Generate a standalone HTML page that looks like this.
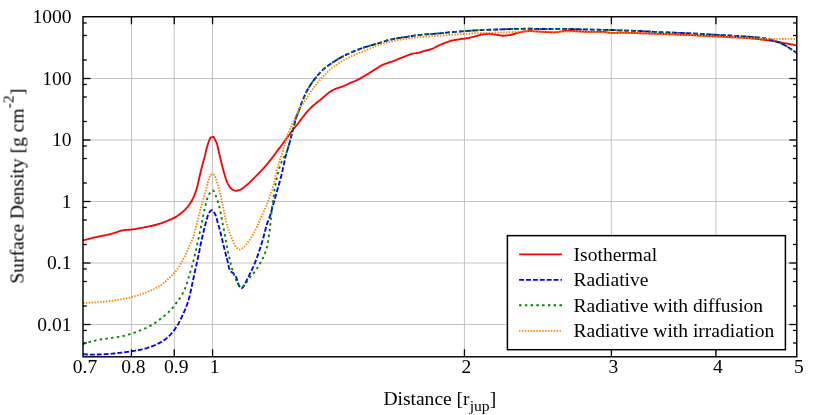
<!DOCTYPE html>
<html><head><meta charset="utf-8"><title>Surface Density</title>
<style>html,body{margin:0;padding:0;background:#fff;}svg{display:block;}text{font-family:"Liberation Serif",serif;white-space:pre;}</style></head><body>
<svg width="830" height="415" viewBox="0 0 830 415">
<rect width="830" height="415" fill="#fff"/>
<g stroke="#c4c4c4" stroke-width="1.0" fill="none">
<line x1="131.45" y1="16.75" x2="131.45" y2="356.8"/>
<line x1="174.25" y1="16.75" x2="174.25" y2="356.8"/>
<line x1="212.55" y1="16.75" x2="212.55" y2="356.8"/>
<line x1="464.45" y1="16.75" x2="464.45" y2="356.8"/>
<line x1="611.40" y1="16.75" x2="611.40" y2="356.8"/>
<line x1="715.90" y1="16.75" x2="715.90" y2="356.8"/>
<line x1="83.0" y1="78.50" x2="796.8" y2="78.50"/>
<line x1="83.0" y1="140.00" x2="796.8" y2="140.00"/>
<line x1="83.0" y1="201.50" x2="796.8" y2="201.50"/>
<line x1="83.0" y1="263.00" x2="796.8" y2="263.00"/>
<line x1="83.0" y1="324.50" x2="796.8" y2="324.50"/>
</g>
<clipPath id="cp"><rect x="83.0" y="16.75" width="713.8" height="340.05"/></clipPath>
<g fill="none" stroke-linejoin="round" clip-path="url(#cp)">
<path d="M83.0,240.3 L84.0,240.1 L85.0,239.9 L86.0,239.7 L87.0,239.4 L88.0,239.2 L89.0,238.9 L90.0,238.6 L91.0,238.3 L92.0,238.1 L93.0,237.8 L94.0,237.5 L95.0,237.3 L96.0,237.1 L97.0,236.9 L98.0,236.7 L99.0,236.5 L100.0,236.3 L101.0,236.1 L102.0,235.9 L103.0,235.7 L104.0,235.5 L105.0,235.3 L106.0,235.1 L107.0,234.9 L108.0,234.7 L109.0,234.5 L110.0,234.2 L111.0,233.9 L112.0,233.7 L113.0,233.4 L114.0,233.1 L115.0,232.7 L116.0,232.4 L117.0,232.1 L118.0,231.7 L119.0,231.4 L120.0,231.0 L121.0,230.7 L122.0,230.5 L123.0,230.3 L124.0,230.2 L125.0,230.0 L126.0,229.9 L127.0,229.8 L128.0,229.8 L129.0,229.7 L130.0,229.7 L131.0,229.6 L132.0,229.5 L133.0,229.4 L134.0,229.2 L135.0,229.1 L136.0,228.9 L137.0,228.7 L138.0,228.5 L139.0,228.3 L140.0,228.1 L141.0,227.9 L142.0,227.8 L143.0,227.6 L144.0,227.4 L145.0,227.2 L146.0,227.0 L147.0,226.8 L148.0,226.6 L149.0,226.4 L150.0,226.2 L151.0,226.0 L152.0,225.8 L153.0,225.5 L154.0,225.3 L155.0,225.0 L156.0,224.8 L157.0,224.5 L158.0,224.2 L159.0,223.9 L160.0,223.6 L161.0,223.3 L162.0,223.0 L163.0,222.6 L164.0,222.2 L165.0,221.8 L166.0,221.4 L167.0,221.0 L168.0,220.6 L169.0,220.2 L170.0,219.7 L171.0,219.3 L172.0,218.9 L173.0,218.4 L174.0,217.9 L175.0,217.4 L176.0,216.9 L177.0,216.2 L178.0,215.5 L179.0,214.8 L180.0,214.1 L181.0,213.3 L182.0,212.4 L183.0,211.6 L184.0,210.6 L185.0,209.7 L186.0,208.6 L187.0,207.5 L188.0,206.3 L189.0,205.0 L190.0,203.6 L191.0,202.0 L192.0,200.3 L193.0,198.3 L194.0,196.2 L195.0,193.7 L196.0,190.9 L197.0,187.6 L198.0,183.6 L199.0,179.1 L200.0,174.8 L201.0,170.5 L202.0,166.4 L203.0,162.8 L204.0,159.2 L205.0,155.4 L206.0,151.1 L207.0,147.0 L208.0,143.8 L209.0,141.0 L210.0,138.6 L210.7,137.3 L213.6,136.8 L217.0,143.6 L218.0,148.2 L219.0,152.6 L220.0,156.9 L221.0,161.0 L222.0,165.1 L223.0,169.0 L224.0,172.7 L225.0,176.1 L226.0,179.2 L227.0,181.9 L228.0,184.1 L229.0,185.8 L230.0,187.2 L231.0,188.4 L232.0,189.3 L233.0,189.9 L234.0,190.4 L235.0,190.7 L236.0,190.8 L237.0,190.7 L238.0,190.4 L239.0,190.1 L240.0,189.8 L241.0,189.3 L242.0,188.8 L243.0,188.1 L244.0,187.3 L245.0,186.4 L246.0,185.6 L247.0,184.8 L248.0,184.0 L249.0,183.2 L250.0,182.2 L251.0,181.2 L252.0,180.2 L253.0,179.2 L254.0,178.2 L255.0,177.2 L256.0,176.2 L257.0,175.2 L258.0,174.2 L259.0,173.1 L260.0,172.1 L261.0,171.0 L262.0,169.9 L263.0,168.9 L264.0,167.8 L265.0,166.7 L266.0,165.5 L267.0,164.3 L268.0,163.1 L269.0,161.9 L270.0,160.6 L271.0,159.3 L272.0,158.0 L273.0,156.7 L274.0,155.4 L275.0,154.1 L276.0,152.7 L277.0,151.3 L278.0,149.9 L279.0,148.6 L280.0,147.4 L281.0,146.1 L282.0,144.8 L283.0,143.4 L284.0,142.0 L285.0,140.5 L286.0,139.1 L287.0,137.7 L288.0,136.4 L289.0,135.0 L290.0,133.7 L291.0,132.4 L292.0,131.1 L293.0,129.8 L294.0,128.5 L295.0,127.3 L296.0,126.0 L297.0,124.8 L298.0,123.5 L299.0,122.2 L300.0,120.9 L301.0,119.6 L302.0,118.3 L303.0,117.0 L304.0,115.6 L305.0,114.4 L306.0,113.1 L307.0,111.9 L308.0,110.7 L309.0,109.6 L310.0,108.6 L311.0,107.6 L312.0,106.7 L313.0,105.8 L314.0,104.9 L315.0,104.1 L316.0,103.3 L317.0,102.5 L318.0,101.7 L319.0,100.9 L320.0,100.1 L321.0,99.3 L322.0,98.5 L323.0,97.6 L324.0,96.7 L325.0,95.9 L326.0,95.0 L327.0,94.1 L328.0,93.3 L329.0,92.5 L330.0,91.8 L331.0,91.2 L332.0,90.6 L333.0,90.0 L334.0,89.5 L335.0,89.1 L336.0,88.7 L337.0,88.3 L338.0,88.0 L339.0,87.7 L340.0,87.3 L341.0,87.0 L342.0,86.6 L343.0,86.3 L344.0,85.9 L345.0,85.4 L346.0,85.0 L347.0,84.5 L348.0,84.0 L349.0,83.6 L350.0,83.1 L351.0,82.7 L352.0,82.3 L353.0,81.9 L354.0,81.5 L355.0,81.1 L356.0,80.7 L357.0,80.2 L358.0,79.7 L359.0,79.2 L360.0,78.6 L361.0,78.0 L362.0,77.4 L363.0,76.8 L364.0,76.2 L365.0,75.6 L366.0,75.1 L367.0,74.5 L368.0,73.9 L369.0,73.2 L370.0,72.6 L371.0,72.0 L372.0,71.4 L373.0,70.8 L374.0,70.1 L375.0,69.5 L376.0,68.9 L377.0,68.2 L378.0,67.6 L379.0,66.9 L380.0,66.3 L381.0,65.7 L382.0,65.1 L383.0,64.7 L384.0,64.3 L385.0,63.9 L386.0,63.5 L387.0,63.2 L388.0,62.8 L389.0,62.5 L390.0,62.2 L391.0,61.9 L392.0,61.5 L393.0,61.2 L394.0,60.8 L395.0,60.5 L396.0,60.1 L397.0,59.7 L398.0,59.2 L399.0,58.8 L400.0,58.4 L401.0,58.0 L402.0,57.6 L403.0,57.2 L404.0,56.8 L405.0,56.4 L406.0,56.0 L407.0,55.6 L408.0,55.2 L409.0,54.8 L410.0,54.4 L411.0,54.1 L412.0,53.8 L413.0,53.6 L414.0,53.4 L415.0,53.3 L416.0,53.2 L417.0,53.0 L418.0,52.8 L419.0,52.6 L420.0,52.3 L421.0,52.0 L422.0,51.7 L423.0,51.3 L424.0,51.0 L425.0,50.8 L426.0,50.5 L427.0,50.3 L428.0,50.0 L429.0,49.8 L430.0,49.5 L431.0,49.2 L432.0,48.9 L433.0,48.5 L434.0,48.0 L435.0,47.5 L436.0,46.9 L437.0,46.4 L438.0,45.8 L439.0,45.4 L440.0,44.9 L441.0,44.5 L442.0,44.1 L443.0,43.7 L444.0,43.3 L445.0,42.9 L446.0,42.5 L447.0,42.2 L448.0,41.9 L449.0,41.5 L450.0,41.2 L451.0,40.9 L452.0,40.6 L453.0,40.4 L454.0,40.2 L455.0,40.0 L456.0,39.8 L457.0,39.6 L458.0,39.5 L459.0,39.3 L460.0,39.2 L461.0,39.0 L462.0,38.9 L463.0,38.8 L464.0,38.6 L465.0,38.5 L466.0,38.4 L467.0,38.2 L468.0,38.1 L469.0,37.9 L470.0,37.7 L471.0,37.4 L472.0,37.2 L473.0,36.9 L474.0,36.7 L475.0,36.4 L476.0,36.2 L477.0,35.9 L478.0,35.6 L479.0,35.3 L480.0,35.0 L481.0,34.7 L482.0,34.5 L483.0,34.4 L484.0,34.3 L485.0,34.1 L486.0,34.0 L487.0,33.9 L488.0,33.8 L489.0,33.8 L490.0,33.8 L491.0,33.9 L492.0,34.0 L493.0,34.2 L494.0,34.3 L495.0,34.5 L496.0,34.7 L497.0,34.8 L498.0,35.0 L499.0,35.2 L500.0,35.4 L501.0,35.6 L502.0,35.7 L503.0,35.7 L504.0,35.7 L505.0,35.6 L506.0,35.5 L507.0,35.4 L508.0,35.3 L509.0,35.1 L510.0,35.0 L511.0,34.8 L512.0,34.5 L513.0,34.3 L514.0,34.0 L515.0,33.7 L516.0,33.4 L517.0,33.1 L518.0,32.9 L519.0,32.6 L520.0,32.3 L521.0,32.1 L522.0,31.9 L523.0,31.7 L524.0,31.5 L525.0,31.4 L526.0,31.3 L527.0,31.2 L528.0,31.1 L529.0,31.0 L530.0,31.0 L531.0,31.0 L532.0,31.1 L533.0,31.2 L534.0,31.3 L535.0,31.3 L536.0,31.4 L537.0,31.5 L538.0,31.5 L539.0,31.6 L540.0,31.6 L541.0,31.7 L542.0,31.8 L543.0,31.8 L544.0,31.9 L545.0,31.9 L546.0,32.0 L547.0,32.0 L548.0,32.1 L549.0,32.1 L550.0,32.2 L551.0,32.2 L552.0,32.3 L553.0,32.3 L554.0,32.3 L555.0,32.3 L556.0,32.2 L557.0,32.1 L558.0,32.0 L559.0,31.8 L560.0,31.6 L561.0,31.4 L562.0,31.3 L563.0,31.1 L564.0,31.0 L565.0,30.8 L566.0,30.7 L567.0,30.6 L568.0,30.6 L569.0,30.6 L570.0,30.7 L571.0,30.7 L572.0,30.8 L573.0,30.9 L574.0,31.0 L575.0,31.1 L576.0,31.2 L577.0,31.3 L578.0,31.3 L579.0,31.4 L580.0,31.4 L581.0,31.5 L582.0,31.5 L583.0,31.6 L584.0,31.6 L585.0,31.7 L586.0,31.7 L587.0,31.8 L588.0,31.8 L589.0,31.9 L590.0,31.9 L591.0,31.9 L592.0,31.9 L593.0,31.9 L594.0,31.9 L595.0,31.9 L596.0,31.9 L597.0,31.9 L598.0,31.9 L599.0,31.9 L600.0,31.9 L601.0,31.9 L602.0,31.9 L603.0,31.9 L604.0,31.9 L605.0,32.0 L606.0,32.1 L607.0,32.3 L608.0,32.5 L609.0,32.7 L610.0,32.8 L611.0,32.9 L612.0,32.9 L613.0,32.9 L614.0,32.8 L615.0,32.8 L616.0,32.8 L617.0,32.7 L618.0,32.7 L619.0,32.6 L620.0,32.6 L621.0,32.6 L622.0,32.6 L623.0,32.6 L624.0,32.6 L625.0,32.7 L626.0,32.7 L627.0,32.8 L628.0,32.8 L629.0,32.8 L630.0,32.9 L631.0,32.9 L632.0,33.0 L633.0,33.0 L634.0,33.0 L635.0,33.1 L636.0,33.1 L637.0,33.1 L638.0,33.1 L639.0,33.2 L640.0,33.2 L641.0,33.2 L642.0,33.3 L643.0,33.3 L644.0,33.3 L645.0,33.3 L646.0,33.4 L647.0,33.4 L648.0,33.4 L649.0,33.5 L650.0,33.5 L651.0,33.5 L652.0,33.6 L653.0,33.6 L654.0,33.6 L655.0,33.7 L656.0,33.7 L657.0,33.7 L658.0,33.8 L659.0,33.8 L660.0,33.8 L661.0,33.9 L662.0,33.9 L663.0,34.0 L664.0,34.0 L665.0,34.0 L666.0,34.1 L667.0,34.1 L668.0,34.1 L669.0,34.2 L670.0,34.2 L671.0,34.3 L672.0,34.3 L673.0,34.4 L674.0,34.4 L675.0,34.4 L676.0,34.5 L677.0,34.5 L678.0,34.6 L679.0,34.6 L680.0,34.7 L681.0,34.7 L682.0,34.7 L683.0,34.8 L684.0,34.8 L685.0,34.9 L686.0,34.9 L687.0,35.0 L688.0,35.0 L689.0,35.1 L690.0,35.1 L691.0,35.1 L692.0,35.2 L693.0,35.2 L694.0,35.3 L695.0,35.3 L696.0,35.4 L697.0,35.4 L698.0,35.5 L699.0,35.5 L700.0,35.6 L701.0,35.6 L702.0,35.7 L703.0,35.7 L704.0,35.8 L705.0,35.8 L706.0,35.9 L707.0,35.9 L708.0,36.0 L709.0,36.0 L710.0,36.1 L711.0,36.1 L712.0,36.2 L713.0,36.2 L714.0,36.3 L715.0,36.3 L716.0,36.4 L717.0,36.4 L718.0,36.5 L719.0,36.5 L720.0,36.6 L721.0,36.6 L722.0,36.7 L723.0,36.7 L724.0,36.8 L725.0,36.8 L726.0,36.9 L727.0,36.9 L728.0,37.0 L729.0,37.0 L730.0,37.1 L731.0,37.2 L732.0,37.2 L733.0,37.2 L734.0,37.3 L735.0,37.3 L736.0,37.4 L737.0,37.4 L738.0,37.5 L739.0,37.5 L740.0,37.6 L741.0,37.6 L742.0,37.7 L743.0,37.8 L744.0,37.8 L745.0,37.9 L746.0,38.0 L747.0,38.1 L748.0,38.1 L749.0,38.2 L750.0,38.3 L751.0,38.4 L752.0,38.5 L753.0,38.6 L754.0,38.7 L755.0,38.8 L756.0,38.9 L757.0,39.0 L758.0,39.1 L759.0,39.2 L760.0,39.3 L761.0,39.5 L762.0,39.6 L763.0,39.7 L764.0,39.8 L765.0,40.0 L766.0,40.1 L767.0,40.2 L768.0,40.4 L769.0,40.5 L770.0,40.6 L771.0,40.8 L772.0,40.9 L773.0,41.1 L774.0,41.2 L775.0,41.4 L776.0,41.5 L777.0,41.7 L778.0,41.9 L779.0,42.0 L780.0,42.2 L781.0,42.5 L782.0,42.7 L783.0,42.9 L784.0,43.1 L785.0,43.2 L786.0,43.4 L787.0,43.6 L788.0,43.7 L789.0,43.9 L790.0,44.1 L791.0,44.3 L792.0,44.4 L793.0,44.7 L794.0,44.9 L795.0,45.1 L796.0,45.3 L796.8,45.5" stroke="#ff0000" stroke-width="1.85"/>
<path d="M83.0,354.1 L84.0,354.2 L85.0,354.3 L86.0,354.4 L87.0,354.5 L88.0,354.5 L89.0,354.6 L90.0,354.6 L91.0,354.6 L92.0,354.6 L93.0,354.6 L94.0,354.6 L95.0,354.5 L96.0,354.5 L97.0,354.5 L98.0,354.5 L99.0,354.5 L100.0,354.4 L101.0,354.4 L102.0,354.3 L103.0,354.3 L104.0,354.2 L105.0,354.2 L106.0,354.1 L107.0,354.1 L108.0,354.0 L109.0,353.9 L110.0,353.9 L111.0,353.8 L112.0,353.7 L113.0,353.6 L114.0,353.5 L115.0,353.4 L116.0,353.3 L117.0,353.2 L118.0,353.0 L119.0,352.9 L120.0,352.8 L121.0,352.7 L122.0,352.6 L123.0,352.4 L124.0,352.3 L125.0,352.2 L126.0,352.1 L127.0,351.9 L128.0,351.8 L129.0,351.6 L130.0,351.5 L131.0,351.3 L132.0,351.2 L133.0,351.0 L134.0,350.8 L135.0,350.7 L136.0,350.5 L137.0,350.3 L138.0,350.2 L139.0,350.0 L140.0,349.8 L141.0,349.6 L142.0,349.4 L143.0,349.2 L144.0,349.0 L145.0,348.7 L146.0,348.4 L147.0,348.1 L148.0,347.7 L149.0,347.4 L150.0,347.1 L151.0,346.7 L152.0,346.3 L153.0,345.9 L154.0,345.5 L155.0,345.1 L156.0,344.6 L157.0,344.2 L158.0,343.7 L159.0,343.2 L160.0,342.7 L161.0,342.1 L162.0,341.5 L163.0,340.9 L164.0,340.3 L165.0,339.5 L166.0,338.8 L167.0,337.9 L168.0,337.1 L169.0,336.1 L170.0,335.1 L171.0,334.0 L172.0,332.9 L173.0,331.7 L174.0,330.4 L175.0,329.1 L176.0,327.6 L177.0,326.1 L178.0,324.4 L179.0,322.6 L180.0,320.7 L181.0,318.6 L182.0,316.5 L183.0,314.3 L184.0,312.1 L185.0,309.8 L186.0,307.4 L187.0,304.7 L188.0,301.9 L189.0,298.6 L190.0,294.6 L191.0,289.9 L192.0,285.2 L193.0,280.4 L194.0,275.7 L195.0,271.2 L196.0,266.8 L197.0,262.3 L198.0,257.6 L199.0,252.8 L200.0,247.9 L201.0,242.8 L202.0,238.2 L203.0,233.9 L204.0,229.8 L205.0,225.9 L206.0,222.1 L207.0,218.2 L208.0,215.1 L209.0,213.1 L210.0,211.3 L211.0,210.3 L212.0,210.2 L213.0,211.0 L214.0,212.3 L215.0,214.0 L216.0,216.2 L217.0,219.7 L218.0,223.7 L219.0,227.2 L220.0,230.7 L221.0,234.7 L222.0,239.0 L223.0,243.2 L224.0,247.2 L225.0,251.1 L226.0,255.1 L227.0,259.0 L228.0,263.1 L229.0,267.7 L230.0,270.6 L231.0,271.7 L232.0,272.3 L233.0,272.9 L234.0,274.0 L235.0,275.3 L236.0,276.9 L237.0,279.4 L238.0,283.2 L239.0,285.7 L240.0,287.4 L241.0,288.4 L242.0,288.3 L243.0,287.0 L244.0,285.4 L245.0,283.7 L246.0,281.7 L247.0,279.6 L248.0,277.5 L249.0,275.6 L250.0,273.6 L251.0,271.7 L252.0,269.6 L253.0,267.4 L254.0,265.1 L255.0,262.7 L256.0,260.1 L257.0,257.5 L258.0,254.6 L259.0,251.7 L260.0,248.7 L261.0,245.6 L262.0,242.3 L263.0,238.9 L264.0,235.2 L265.0,231.2 L266.0,227.2 L267.0,223.9 L268.0,221.1 L269.0,218.6 L270.0,215.9 L271.0,212.7 L272.0,209.1 L273.0,205.4 L274.0,201.7 L275.0,198.2 L276.0,194.7 L277.0,191.3 L278.0,187.8 L279.0,184.2 L280.0,180.7 L281.0,177.1 L282.0,172.9 L283.0,168.3 L284.0,163.7 L285.0,159.2 L286.0,155.0 L287.0,151.5 L288.0,148.2 L289.0,144.7 L290.0,141.0 L291.0,137.2 L292.0,133.0 L293.0,129.2 L294.0,125.8 L295.0,121.8 L296.0,117.9 L297.0,115.4 L298.0,113.0 L299.0,110.3 L300.0,107.5 L301.0,104.7 L302.0,102.1 L303.0,99.8 L304.0,97.1 L305.0,94.8 L306.0,92.6 L307.0,90.7 L308.0,89.0 L309.0,87.3 L310.0,85.7 L311.0,84.0 L312.0,82.5 L313.0,81.2 L314.0,79.9 L315.0,78.7 L316.0,77.4 L317.0,76.1 L318.0,74.9 L319.0,73.8 L320.0,72.7 L321.0,71.6 L322.0,70.6 L323.0,69.6 L324.0,68.8 L325.0,68.0 L326.0,67.2 L327.0,66.5 L328.0,65.7 L329.0,65.0 L330.0,64.3 L331.0,63.6 L332.0,62.9 L333.0,62.3 L334.0,61.6 L335.0,61.0 L336.0,60.3 L337.0,59.7 L338.0,59.1 L339.0,58.5 L340.0,57.9 L341.0,57.4 L342.0,56.8 L343.0,56.3 L344.0,55.9 L345.0,55.4 L346.0,54.9 L347.0,54.4 L348.0,53.9 L349.0,53.5 L350.0,53.0 L351.0,52.6 L352.0,52.1 L353.0,51.7 L354.0,51.3 L355.0,50.9 L356.0,50.5 L357.0,50.1 L358.0,49.7 L359.0,49.3 L360.0,48.9 L361.0,48.5 L362.0,48.1 L363.0,47.8 L364.0,47.5 L365.0,47.2 L366.0,46.9 L367.0,46.6 L368.0,46.3 L369.0,46.0 L370.0,45.7 L371.0,45.4 L372.0,45.1 L373.0,44.8 L374.0,44.5 L375.0,44.2 L376.0,43.9 L377.0,43.7 L378.0,43.4 L379.0,43.1 L380.0,42.8 L381.0,42.5 L382.0,42.1 L383.0,41.8 L384.0,41.5 L385.0,41.2 L386.0,40.8 L387.0,40.5 L388.0,40.2 L389.0,40.0 L390.0,39.7 L391.0,39.5 L392.0,39.3 L393.0,39.1 L394.0,38.9 L395.0,38.7 L396.0,38.5 L397.0,38.3 L398.0,38.2 L399.0,38.0 L400.0,37.8 L401.0,37.7 L402.0,37.5 L403.0,37.4 L404.0,37.2 L405.0,37.1 L406.0,37.0 L407.0,36.8 L408.0,36.7 L409.0,36.5 L410.0,36.4 L411.0,36.2 L412.0,36.0 L413.0,35.9 L414.0,35.7 L415.0,35.5 L416.0,35.4 L417.0,35.3 L418.0,35.1 L419.0,35.0 L420.0,34.9 L421.0,34.8 L422.0,34.7 L423.0,34.6 L424.0,34.5 L425.0,34.4 L426.0,34.3 L427.0,34.3 L428.0,34.2 L429.0,34.1 L430.0,34.0 L431.0,34.0 L432.0,33.9 L433.0,33.8 L434.0,33.8 L435.0,33.7 L436.0,33.6 L437.0,33.5 L438.0,33.5 L439.0,33.4 L440.0,33.3 L441.0,33.2 L442.0,33.1 L443.0,33.0 L444.0,32.9 L445.0,32.8 L446.0,32.7 L447.0,32.6 L448.0,32.5 L449.0,32.4 L450.0,32.3 L451.0,32.2 L452.0,32.1 L453.0,32.0 L454.0,32.0 L455.0,31.9 L456.0,31.8 L457.0,31.7 L458.0,31.6 L459.0,31.6 L460.0,31.5 L461.0,31.4 L462.0,31.3 L463.0,31.2 L464.0,31.2 L465.0,31.1 L466.0,31.0 L467.0,31.0 L468.0,30.9 L469.0,30.8 L470.0,30.7 L471.0,30.7 L472.0,30.6 L473.0,30.5 L474.0,30.5 L475.0,30.4 L476.0,30.3 L477.0,30.3 L478.0,30.2 L479.0,30.2 L480.0,30.1 L481.0,30.1 L482.0,30.0 L483.0,30.0 L484.0,29.9 L485.0,29.9 L486.0,29.9 L487.0,29.8 L488.0,29.8 L489.0,29.7 L490.0,29.7 L491.0,29.7 L492.0,29.7 L493.0,29.6 L494.0,29.6 L495.0,29.6 L496.0,29.5 L497.0,29.5 L498.0,29.5 L499.0,29.4 L500.0,29.4 L501.0,29.3 L502.0,29.3 L503.0,29.3 L504.0,29.2 L505.0,29.2 L506.0,29.2 L507.0,29.1 L508.0,29.1 L509.0,29.1 L510.0,29.0 L511.0,29.0 L512.0,29.0 L513.0,29.0 L514.0,28.9 L515.0,28.9 L516.0,28.9 L517.0,28.9 L518.0,28.8 L519.0,28.8 L520.0,28.8 L521.0,28.8 L522.0,28.8 L523.0,28.8 L524.0,28.7 L525.0,28.7 L526.0,28.7 L527.0,28.7 L528.0,28.7 L529.0,28.7 L530.0,28.7 L531.0,28.7 L532.0,28.7 L533.0,28.7 L534.0,28.8 L535.0,28.8 L536.0,28.9 L537.0,28.9 L538.0,28.9 L539.0,29.0 L540.0,29.0 L541.0,29.0 L542.0,29.0 L543.0,29.0 L544.0,29.0 L545.0,29.0 L546.0,29.0 L547.0,29.0 L548.0,29.0 L549.0,29.0 L550.0,29.0 L551.0,29.0 L552.0,29.0 L553.0,28.9 L554.0,28.9 L555.0,28.9 L556.0,28.9 L557.0,28.9 L558.0,28.9 L559.0,28.9 L560.0,28.9 L561.0,28.9 L562.0,28.9 L563.0,28.9 L564.0,28.9 L565.0,28.9 L566.0,28.9 L567.0,28.9 L568.0,28.9 L569.0,29.0 L570.0,29.0 L571.0,29.0 L572.0,29.0 L573.0,29.1 L574.0,29.1 L575.0,29.1 L576.0,29.2 L577.0,29.2 L578.0,29.2 L579.0,29.2 L580.0,29.3 L581.0,29.3 L582.0,29.3 L583.0,29.3 L584.0,29.4 L585.0,29.4 L586.0,29.4 L587.0,29.5 L588.0,29.5 L589.0,29.5 L590.0,29.5 L591.0,29.6 L592.0,29.6 L593.0,29.6 L594.0,29.6 L595.0,29.7 L596.0,29.7 L597.0,29.7 L598.0,29.7 L599.0,29.7 L600.0,29.8 L601.0,29.8 L602.0,29.8 L603.0,29.8 L604.0,29.8 L605.0,29.9 L606.0,29.9 L607.0,29.9 L608.0,29.9 L609.0,29.9 L610.0,30.0 L611.0,30.0 L612.0,30.0 L613.0,30.0 L614.0,30.1 L615.0,30.1 L616.0,30.2 L617.0,30.2 L618.0,30.2 L619.0,30.3 L620.0,30.3 L621.0,30.4 L622.0,30.4 L623.0,30.4 L624.0,30.5 L625.0,30.5 L626.0,30.6 L627.0,30.6 L628.0,30.6 L629.0,30.7 L630.0,30.7 L631.0,30.7 L632.0,30.7 L633.0,30.8 L634.0,30.8 L635.0,30.8 L636.0,30.9 L637.0,30.9 L638.0,30.9 L639.0,31.0 L640.0,31.0 L641.0,31.0 L642.0,31.1 L643.0,31.1 L644.0,31.2 L645.0,31.3 L646.0,31.3 L647.0,31.4 L648.0,31.4 L649.0,31.5 L650.0,31.6 L651.0,31.6 L652.0,31.7 L653.0,31.8 L654.0,31.8 L655.0,31.9 L656.0,31.9 L657.0,32.0 L658.0,32.1 L659.0,32.1 L660.0,32.2 L661.0,32.2 L662.0,32.2 L663.0,32.3 L664.0,32.3 L665.0,32.4 L666.0,32.4 L667.0,32.4 L668.0,32.5 L669.0,32.5 L670.0,32.5 L671.0,32.6 L672.0,32.6 L673.0,32.6 L674.0,32.7 L675.0,32.7 L676.0,32.7 L677.0,32.8 L678.0,32.8 L679.0,32.9 L680.0,32.9 L681.0,32.9 L682.0,33.0 L683.0,33.0 L684.0,33.0 L685.0,33.1 L686.0,33.1 L687.0,33.2 L688.0,33.2 L689.0,33.3 L690.0,33.3 L691.0,33.4 L692.0,33.4 L693.0,33.5 L694.0,33.5 L695.0,33.6 L696.0,33.6 L697.0,33.7 L698.0,33.7 L699.0,33.8 L700.0,33.8 L701.0,33.9 L702.0,34.0 L703.0,34.0 L704.0,34.1 L705.0,34.1 L706.0,34.2 L707.0,34.2 L708.0,34.3 L709.0,34.4 L710.0,34.4 L711.0,34.5 L712.0,34.5 L713.0,34.6 L714.0,34.7 L715.0,34.7 L716.0,34.8 L717.0,34.8 L718.0,34.9 L719.0,34.9 L720.0,35.0 L721.0,35.0 L722.0,35.1 L723.0,35.1 L724.0,35.2 L725.0,35.2 L726.0,35.3 L727.0,35.3 L728.0,35.4 L729.0,35.4 L730.0,35.5 L731.0,35.6 L732.0,35.6 L733.0,35.7 L734.0,35.8 L735.0,35.8 L736.0,35.9 L737.0,36.0 L738.0,36.0 L739.0,36.1 L740.0,36.2 L741.0,36.2 L742.0,36.3 L743.0,36.4 L744.0,36.4 L745.0,36.5 L746.0,36.5 L747.0,36.6 L748.0,36.7 L749.0,36.7 L750.0,36.8 L751.0,36.9 L752.0,36.9 L753.0,37.0 L754.0,37.1 L755.0,37.2 L756.0,37.3 L757.0,37.4 L758.0,37.5 L759.0,37.6 L760.0,37.8 L761.0,37.9 L762.0,38.0 L763.0,38.2 L764.0,38.3 L765.0,38.5 L766.0,38.7 L767.0,38.9 L768.0,39.1 L769.0,39.3 L770.0,39.5 L771.0,39.8 L772.0,40.0 L773.0,40.3 L774.0,40.7 L775.0,41.0 L776.0,41.4 L777.0,41.8 L778.0,42.2 L779.0,42.6 L780.0,43.0 L781.0,43.4 L782.0,43.9 L783.0,44.3 L784.0,44.8 L785.0,45.3 L786.0,45.9 L787.0,46.5 L788.0,47.2 L789.0,47.8 L790.0,48.5 L791.0,49.1 L792.0,49.8 L793.0,50.4 L794.0,51.1 L795.0,51.8 L796.0,52.4 L796.8,53.0" stroke="#0000ff" stroke-width="1.85" stroke-dasharray="4.9 2.0"/>
<path d="M83.0,344.0 L84.0,343.7 L85.0,343.4 L86.0,343.1 L87.0,342.8 L88.0,342.5 L89.0,342.2 L90.0,342.0 L91.0,341.7 L92.0,341.4 L93.0,341.1 L94.0,340.8 L95.0,340.6 L96.0,340.3 L97.0,340.1 L98.0,339.9 L99.0,339.7 L100.0,339.5 L101.0,339.4 L102.0,339.2 L103.0,339.1 L104.0,339.0 L105.0,338.8 L106.0,338.7 L107.0,338.6 L108.0,338.4 L109.0,338.3 L110.0,338.2 L111.0,338.0 L112.0,337.9 L113.0,337.7 L114.0,337.6 L115.0,337.4 L116.0,337.3 L117.0,337.1 L118.0,336.9 L119.0,336.8 L120.0,336.6 L121.0,336.4 L122.0,336.2 L123.0,336.0 L124.0,335.8 L125.0,335.5 L126.0,335.3 L127.0,335.0 L128.0,334.7 L129.0,334.4 L130.0,334.1 L131.0,333.8 L132.0,333.5 L133.0,333.1 L134.0,332.8 L135.0,332.5 L136.0,332.1 L137.0,331.7 L138.0,331.3 L139.0,330.9 L140.0,330.5 L141.0,330.1 L142.0,329.7 L143.0,329.3 L144.0,328.9 L145.0,328.4 L146.0,328.0 L147.0,327.5 L148.0,327.0 L149.0,326.5 L150.0,325.9 L151.0,325.4 L152.0,324.8 L153.0,324.2 L154.0,323.5 L155.0,322.9 L156.0,322.2 L157.0,321.4 L158.0,320.7 L159.0,320.0 L160.0,319.2 L161.0,318.5 L162.0,317.7 L163.0,316.9 L164.0,316.1 L165.0,315.3 L166.0,314.4 L167.0,313.5 L168.0,312.6 L169.0,311.7 L170.0,310.7 L171.0,309.6 L172.0,308.6 L173.0,307.4 L174.0,306.1 L175.0,304.8 L176.0,303.4 L177.0,302.1 L178.0,300.7 L179.0,299.4 L180.0,298.0 L181.0,296.4 L182.0,294.6 L183.0,292.8 L184.0,290.9 L185.0,288.7 L186.0,286.1 L187.0,283.1 L188.0,279.9 L189.0,276.5 L190.0,273.0 L191.0,269.6 L192.0,266.2 L193.0,262.6 L194.0,258.6 L195.0,254.5 L196.0,250.1 L197.0,245.6 L198.0,240.9 L199.0,236.2 L200.0,231.5 L201.0,226.7 L202.0,221.9 L203.0,216.8 L204.0,211.8 L205.0,207.2 L206.0,203.3 L207.0,199.6 L208.0,196.4 L209.0,194.3 L210.0,192.9 L211.0,191.6 L212.0,190.7 L213.0,190.4 L214.0,191.3 L215.0,193.4 L216.0,196.2 L217.0,199.1 L218.0,202.1 L219.0,205.7 L220.0,209.8 L221.0,214.7 L222.0,220.2 L223.0,225.4 L224.0,230.4 L225.0,235.7 L226.0,241.2 L227.0,246.6 L228.0,251.7 L229.0,256.4 L230.0,260.8 L231.0,264.9 L232.0,268.5 L233.0,271.9 L234.0,274.8 L235.0,277.4 L236.0,279.8 L237.0,281.8 L238.0,283.8 L239.0,285.4 L240.0,286.4 L241.0,287.2 L242.0,287.2 L243.0,286.7 L244.0,285.8 L245.0,284.6 L246.0,283.2 L247.0,281.8 L248.0,280.5 L249.0,279.0 L250.0,277.4 L251.0,276.0 L252.0,274.9 L253.0,273.8 L254.0,272.6 L255.0,271.4 L256.0,270.0 L257.0,268.6 L258.0,267.1 L259.0,265.4 L260.0,263.6 L261.0,261.8 L262.0,259.9 L263.0,258.0 L264.0,255.8 L265.0,253.2 L266.0,250.2 L267.0,246.7 L268.0,241.7 L269.0,235.0 L270.0,228.1 L271.0,218.1 L272.0,207.3 L273.0,200.7 L274.0,194.5 L275.0,186.9 L276.0,181.2 L277.0,176.8 L278.0,173.0 L279.0,169.5 L280.0,166.3 L281.0,163.4 L282.0,160.9 L283.0,158.8 L284.0,157.0 L285.0,155.6 L286.0,154.0 L287.0,151.4 L288.0,148.2 L289.0,144.7 L290.0,141.0 L291.0,137.2 L292.0,133.0 L293.0,129.2 L294.0,125.8 L295.0,121.8 L296.0,117.9 L297.0,115.4 L298.0,113.0 L299.0,110.3 L300.0,107.5 L301.0,104.7 L302.0,102.1 L303.0,99.8 L304.0,97.1 L305.0,94.8 L306.0,92.6 L307.0,90.7 L308.0,89.0 L309.0,87.3 L310.0,85.7 L311.0,84.0 L312.0,82.5 L313.0,81.2 L314.0,79.9 L315.0,78.7 L316.0,77.4 L317.0,76.1 L318.0,74.9 L319.0,73.8 L320.0,72.7 L321.0,71.6 L322.0,70.6 L323.0,69.6 L324.0,68.8 L325.0,68.0 L326.0,67.2 L327.0,66.5 L328.0,65.7 L329.0,65.0 L330.0,64.3 L331.0,63.6 L332.0,62.9 L333.0,62.3 L334.0,61.6 L335.0,61.0 L336.0,60.3 L337.0,59.7 L338.0,59.1 L339.0,58.5 L340.0,57.9 L341.0,57.4 L342.0,56.8 L343.0,56.3 L344.0,55.9 L345.0,55.4 L346.0,54.9 L347.0,54.4 L348.0,53.9 L349.0,53.5 L350.0,53.0 L351.0,52.6 L352.0,52.1 L353.0,51.7 L354.0,51.3 L355.0,50.9 L356.0,50.5 L357.0,50.1 L358.0,49.7 L359.0,49.3 L360.0,48.9 L361.0,48.5 L362.0,48.1 L363.0,47.8 L364.0,47.5 L365.0,47.2 L366.0,46.9 L367.0,46.6 L368.0,46.3 L369.0,46.0 L370.0,45.7 L371.0,45.4 L372.0,45.1 L373.0,44.8 L374.0,44.5 L375.0,44.2 L376.0,43.9 L377.0,43.7 L378.0,43.4 L379.0,43.1 L380.0,42.8 L381.0,42.5 L382.0,42.1 L383.0,41.8 L384.0,41.5 L385.0,41.2 L386.0,40.8 L387.0,40.5 L388.0,40.2 L389.0,40.0 L390.0,39.7 L391.0,39.5 L392.0,39.3 L393.0,39.1 L394.0,38.9 L395.0,38.7 L396.0,38.5 L397.0,38.3 L398.0,38.2 L399.0,38.0 L400.0,37.8 L401.0,37.7 L402.0,37.5 L403.0,37.4 L404.0,37.2 L405.0,37.1 L406.0,37.0 L407.0,36.8 L408.0,36.7 L409.0,36.5 L410.0,36.4 L411.0,36.2 L412.0,36.0 L413.0,35.9 L414.0,35.7 L415.0,35.5 L416.0,35.4 L417.0,35.3 L418.0,35.1 L419.0,35.0 L420.0,34.9 L421.0,34.8 L422.0,34.7 L423.0,34.6 L424.0,34.5 L425.0,34.4 L426.0,34.3 L427.0,34.3 L428.0,34.2 L429.0,34.1 L430.0,34.0 L431.0,34.0 L432.0,33.9 L433.0,33.8 L434.0,33.8 L435.0,33.7 L436.0,33.6 L437.0,33.5 L438.0,33.5 L439.0,33.4 L440.0,33.3 L441.0,33.2 L442.0,33.1 L443.0,33.0 L444.0,32.9 L445.0,32.8 L446.0,32.7 L447.0,32.6 L448.0,32.5 L449.0,32.4 L450.0,32.3 L451.0,32.2 L452.0,32.1 L453.0,32.0 L454.0,32.0 L455.0,31.9 L456.0,31.8 L457.0,31.7 L458.0,31.6 L459.0,31.6 L460.0,31.5 L461.0,31.4 L462.0,31.3 L463.0,31.2 L464.0,31.2 L465.0,31.1 L466.0,31.0 L467.0,31.0 L468.0,30.9 L469.0,30.8 L470.0,30.7 L471.0,30.7 L472.0,30.6 L473.0,30.5 L474.0,30.5 L475.0,30.4 L476.0,30.3 L477.0,30.3 L478.0,30.2 L479.0,30.2 L480.0,30.1 L481.0,30.1 L482.0,30.0 L483.0,30.0 L484.0,29.9 L485.0,29.9 L486.0,29.9 L487.0,29.8 L488.0,29.8 L489.0,29.7 L490.0,29.7 L491.0,29.7 L492.0,29.7 L493.0,29.6 L494.0,29.6 L495.0,29.6 L496.0,29.5 L497.0,29.5 L498.0,29.5 L499.0,29.4 L500.0,29.4 L501.0,29.3 L502.0,29.3 L503.0,29.3 L504.0,29.2 L505.0,29.2 L506.0,29.2 L507.0,29.1 L508.0,29.1 L509.0,29.1 L510.0,29.0 L511.0,29.0 L512.0,29.0 L513.0,29.0 L514.0,28.9 L515.0,28.9 L516.0,28.9 L517.0,28.9 L518.0,28.8 L519.0,28.8 L520.0,28.8 L521.0,28.8 L522.0,28.8 L523.0,28.8 L524.0,28.7 L525.0,28.7 L526.0,28.7 L527.0,28.7 L528.0,28.7 L529.0,28.7 L530.0,28.7 L531.0,28.7 L532.0,28.7 L533.0,28.7 L534.0,28.8 L535.0,28.8 L536.0,28.9 L537.0,28.9 L538.0,28.9 L539.0,29.0 L540.0,29.0 L541.0,29.0 L542.0,29.0 L543.0,29.0 L544.0,29.0 L545.0,29.0 L546.0,29.0 L547.0,29.0 L548.0,29.0 L549.0,29.0 L550.0,29.0 L551.0,29.0 L552.0,29.0 L553.0,28.9 L554.0,28.9 L555.0,28.9 L556.0,28.9 L557.0,28.9 L558.0,28.9 L559.0,28.9 L560.0,28.9 L561.0,28.9 L562.0,28.9 L563.0,28.9 L564.0,28.9 L565.0,28.9 L566.0,28.9 L567.0,28.9 L568.0,28.9 L569.0,29.0 L570.0,29.0 L571.0,29.0 L572.0,29.0 L573.0,29.1 L574.0,29.1 L575.0,29.1 L576.0,29.2 L577.0,29.2 L578.0,29.2 L579.0,29.2 L580.0,29.3 L581.0,29.3 L582.0,29.3 L583.0,29.3 L584.0,29.4 L585.0,29.4 L586.0,29.4 L587.0,29.5 L588.0,29.5 L589.0,29.5 L590.0,29.5 L591.0,29.6 L592.0,29.6 L593.0,29.6 L594.0,29.6 L595.0,29.7 L596.0,29.7 L597.0,29.7 L598.0,29.7 L599.0,29.7 L600.0,29.8 L601.0,29.8 L602.0,29.8 L603.0,29.8 L604.0,29.8 L605.0,29.9 L606.0,29.9 L607.0,29.9 L608.0,29.9 L609.0,29.9 L610.0,30.0 L611.0,30.0 L612.0,30.0 L613.0,30.0 L614.0,30.1 L615.0,30.1 L616.0,30.2 L617.0,30.2 L618.0,30.2 L619.0,30.3 L620.0,30.3 L621.0,30.4 L622.0,30.4 L623.0,30.4 L624.0,30.5 L625.0,30.5 L626.0,30.6 L627.0,30.6 L628.0,30.6 L629.0,30.7 L630.0,30.7 L631.0,30.7 L632.0,30.7 L633.0,30.8 L634.0,30.8 L635.0,30.8 L636.0,30.9 L637.0,30.9 L638.0,30.9 L639.0,31.0 L640.0,31.0 L641.0,31.0 L642.0,31.1 L643.0,31.1 L644.0,31.2 L645.0,31.3 L646.0,31.3 L647.0,31.4 L648.0,31.4 L649.0,31.5 L650.0,31.6 L651.0,31.6 L652.0,31.7 L653.0,31.8 L654.0,31.8 L655.0,31.9 L656.0,31.9 L657.0,32.0 L658.0,32.1 L659.0,32.1 L660.0,32.2 L661.0,32.2 L662.0,32.2 L663.0,32.3 L664.0,32.3 L665.0,32.4 L666.0,32.4 L667.0,32.4 L668.0,32.5 L669.0,32.5 L670.0,32.5 L671.0,32.6 L672.0,32.6 L673.0,32.6 L674.0,32.7 L675.0,32.7 L676.0,32.7 L677.0,32.8 L678.0,32.8 L679.0,32.9 L680.0,32.9 L681.0,32.9 L682.0,33.0 L683.0,33.0 L684.0,33.0 L685.0,33.1 L686.0,33.1 L687.0,33.2 L688.0,33.2 L689.0,33.3 L690.0,33.3 L691.0,33.4 L692.0,33.4 L693.0,33.5 L694.0,33.5 L695.0,33.6 L696.0,33.6 L697.0,33.7 L698.0,33.7 L699.0,33.8 L700.0,33.8 L701.0,33.9 L702.0,34.0 L703.0,34.0 L704.0,34.1 L705.0,34.1 L706.0,34.2 L707.0,34.2 L708.0,34.3 L709.0,34.4 L710.0,34.4 L711.0,34.5 L712.0,34.5 L713.0,34.6 L714.0,34.7 L715.0,34.7 L716.0,34.8 L717.0,34.8 L718.0,34.9 L719.0,34.9 L720.0,35.0 L721.0,35.0 L722.0,35.1 L723.0,35.1 L724.0,35.2 L725.0,35.2 L726.0,35.3 L727.0,35.3 L728.0,35.4 L729.0,35.4 L730.0,35.5 L731.0,35.6 L732.0,35.6 L733.0,35.7 L734.0,35.8 L735.0,35.8 L736.0,35.9 L737.0,36.0 L738.0,36.0 L739.0,36.1 L740.0,36.2 L741.0,36.2 L742.0,36.3 L743.0,36.4 L744.0,36.4 L745.0,36.5 L746.0,36.5 L747.0,36.6 L748.0,36.7 L749.0,36.7 L750.0,36.8 L751.0,36.9 L752.0,36.9 L753.0,37.0 L754.0,37.1 L755.0,37.2 L756.0,37.3 L757.0,37.4 L758.0,37.5 L759.0,37.6 L760.0,37.8 L761.0,37.9 L762.0,38.0 L763.0,38.2 L764.0,38.3 L765.0,38.5 L766.0,38.7 L767.0,38.9 L768.0,39.1 L769.0,39.3 L770.0,39.5 L771.0,39.8 L772.0,40.0 L773.0,40.3 L774.0,40.7 L775.0,41.0 L776.0,41.4 L777.0,41.8 L778.0,42.2 L779.0,42.6 L780.0,43.0 L781.0,43.4 L782.0,43.9 L783.0,44.3 L784.0,44.8 L785.0,45.3 L786.0,45.9 L787.0,46.5 L788.0,47.2 L789.0,47.8 L790.0,48.5 L791.0,49.1 L792.0,49.8 L793.0,50.4 L794.0,51.1 L795.0,51.8 L796.0,52.4 L796.8,53.0" stroke="#008000" stroke-width="1.85" stroke-dasharray="2.45 3.31"/>
<path d="M83.0,303.0 L84.0,303.0 L85.0,302.9 L86.0,302.9 L87.0,302.8 L88.0,302.8 L89.0,302.7 L90.0,302.7 L91.0,302.6 L92.0,302.5 L93.0,302.5 L94.0,302.4 L95.0,302.3 L96.0,302.3 L97.0,302.2 L98.0,302.1 L99.0,302.1 L100.0,302.0 L101.0,301.9 L102.0,301.8 L103.0,301.7 L104.0,301.7 L105.0,301.6 L106.0,301.5 L107.0,301.4 L108.0,301.3 L109.0,301.1 L110.0,301.0 L111.0,300.9 L112.0,300.8 L113.0,300.7 L114.0,300.5 L115.0,300.4 L116.0,300.2 L117.0,300.0 L118.0,299.9 L119.0,299.7 L120.0,299.5 L121.0,299.3 L122.0,299.1 L123.0,298.9 L124.0,298.7 L125.0,298.5 L126.0,298.3 L127.0,298.1 L128.0,297.9 L129.0,297.7 L130.0,297.5 L131.0,297.2 L132.0,297.0 L133.0,296.8 L134.0,296.5 L135.0,296.2 L136.0,296.0 L137.0,295.7 L138.0,295.4 L139.0,295.1 L140.0,294.8 L141.0,294.4 L142.0,294.1 L143.0,293.7 L144.0,293.3 L145.0,292.9 L146.0,292.5 L147.0,292.1 L148.0,291.7 L149.0,291.3 L150.0,290.8 L151.0,290.4 L152.0,289.9 L153.0,289.4 L154.0,289.0 L155.0,288.5 L156.0,287.9 L157.0,287.4 L158.0,286.8 L159.0,286.3 L160.0,285.6 L161.0,285.0 L162.0,284.2 L163.0,283.5 L164.0,282.7 L165.0,281.9 L166.0,281.0 L167.0,280.1 L168.0,279.1 L169.0,278.2 L170.0,277.2 L171.0,276.3 L172.0,275.3 L173.0,274.3 L174.0,273.3 L175.0,272.1 L176.0,270.9 L177.0,269.6 L178.0,268.2 L179.0,266.7 L180.0,265.2 L181.0,263.5 L182.0,261.7 L183.0,259.8 L184.0,257.8 L185.0,255.8 L186.0,253.6 L187.0,251.4 L188.0,249.1 L189.0,246.9 L190.0,244.5 L191.0,242.2 L192.0,240.3 L193.0,238.5 L194.0,235.1 L195.0,230.8 L196.0,226.9 L197.0,223.1 L198.0,219.1 L199.0,215.2 L200.0,211.2 L201.0,207.2 L202.0,203.5 L203.0,200.0 L204.0,196.5 L205.0,193.1 L206.0,189.5 L207.0,185.6 L208.0,181.7 L209.0,178.5 L210.0,175.7 L210.4,174.7 L214.2,174.7 L215.2,177.1 L216.2,179.7 L217.2,182.8 L218.2,186.1 L219.2,189.5 L220.2,193.2 L221.2,197.8 L222.2,202.7 L223.2,207.5 L224.2,212.3 L225.2,217.1 L226.2,221.5 L227.2,225.4 L228.2,228.9 L229.2,232.0 L230.2,234.6 L231.2,236.9 L232.2,239.2 L233.2,241.6 L234.2,244.0 L235.2,245.9 L236.2,247.2 L237.2,248.3 L238.2,249.1 L239.2,249.5 L240.2,249.4 L241.2,248.9 L242.2,248.3 L243.2,247.6 L244.2,246.8 L245.2,245.8 L246.2,244.5 L247.2,243.2 L248.2,241.9 L249.2,240.5 L250.2,239.1 L251.2,237.6 L252.2,236.0 L253.2,234.2 L254.2,232.4 L255.2,230.4 L256.2,228.4 L257.2,226.2 L258.2,224.0 L259.2,221.7 L260.2,219.4 L261.2,217.2 L262.2,214.9 L263.2,212.7 L264.2,210.5 L265.2,208.2 L266.2,205.8 L267.2,203.4 L268.2,200.8 L269.2,198.2 L270.2,195.5 L271.2,192.7 L272.2,189.8 L273.2,186.6 L274.2,182.5 L275.2,177.5 L276.2,173.0 L277.2,169.2 L278.2,165.7 L279.2,162.4 L280.2,159.1 L281.2,156.0 L282.2,153.0 L283.2,149.8 L284.2,146.3 L285.2,143.0 L286.2,139.7 L287.2,136.5 L288.2,133.3 L289.2,130.7 L290.2,128.5 L291.2,126.3 L292.2,124.1 L293.2,122.1 L294.2,119.6 L295.2,117.4 L296.2,115.5 L297.2,113.5 L298.2,111.5 L299.2,109.5 L300.2,107.8 L301.2,106.2 L302.2,104.8 L303.2,103.4 L304.2,102.0 L305.2,100.6 L306.2,98.9 L307.2,97.1 L308.2,95.4 L309.2,93.8 L310.2,92.4 L311.2,91.1 L312.2,89.7 L313.2,88.4 L314.2,87.0 L315.2,85.7 L316.2,84.4 L317.2,83.1 L318.2,81.9 L319.2,80.7 L320.2,79.6 L321.2,78.5 L322.2,77.5 L323.2,76.4 L324.2,75.4 L325.2,74.3 L326.2,73.3 L327.2,72.3 L328.2,71.3 L329.2,70.4 L330.2,69.6 L331.2,68.8 L332.2,68.0 L333.2,67.2 L334.2,66.5 L335.2,65.8 L336.2,65.1 L337.2,64.4 L338.2,63.6 L339.2,62.9 L340.2,62.2 L341.2,61.6 L342.2,61.0 L343.2,60.4 L344.2,59.8 L345.2,59.3 L346.2,58.8 L347.2,58.3 L348.2,57.8 L349.2,57.3 L350.2,56.8 L351.2,56.3 L352.2,55.8 L353.2,55.3 L354.2,54.9 L355.2,54.5 L356.2,54.1 L357.2,53.7 L358.2,53.4 L359.2,53.0 L360.2,52.6 L361.2,52.2 L362.2,51.8 L363.2,51.4 L364.2,51.0 L365.2,50.6 L366.2,50.2 L367.2,49.7 L368.2,49.3 L369.2,48.9 L370.2,48.5 L371.2,48.1 L372.2,47.7 L373.2,47.3 L374.2,46.8 L375.2,46.4 L376.2,46.0 L377.2,45.6 L378.2,45.3 L379.2,44.9 L380.2,44.6 L381.2,44.3 L382.2,44.0 L383.2,43.7 L384.2,43.5 L385.2,43.2 L386.2,43.0 L387.2,42.7 L388.2,42.5 L389.2,42.2 L390.2,42.0 L391.2,41.7 L392.2,41.4 L393.2,41.2 L394.2,40.9 L395.2,40.7 L396.2,40.5 L397.2,40.2 L398.2,40.0 L399.2,39.8 L400.2,39.7 L401.2,39.5 L402.2,39.4 L403.2,39.2 L404.2,39.1 L405.2,38.9 L406.2,38.8 L407.2,38.7 L408.2,38.6 L409.2,38.4 L410.2,38.3 L411.2,38.2 L412.2,38.0 L413.2,37.9 L414.2,37.8 L415.2,37.6 L416.2,37.5 L417.2,37.4 L418.2,37.3 L419.2,37.2 L420.2,37.1 L421.2,37.0 L422.2,36.9 L423.2,36.8 L424.2,36.7 L425.2,36.6 L426.2,36.5 L427.2,36.4 L428.2,36.4 L429.2,36.3 L430.2,36.2 L431.2,36.2 L432.2,36.1 L433.2,36.1 L434.2,36.0 L435.2,35.9 L436.2,35.9 L437.2,35.8 L438.2,35.8 L439.2,35.7 L440.2,35.6 L441.2,35.5 L442.2,35.5 L443.2,35.4 L444.2,35.3 L445.2,35.2 L446.2,35.2 L447.2,35.1 L448.2,35.0 L449.2,35.0 L450.2,34.9 L451.2,34.8 L452.2,34.7 L453.2,34.7 L454.2,34.6 L455.2,34.5 L456.2,34.5 L457.2,34.4 L458.2,34.3 L459.2,34.3 L460.2,34.2 L461.2,34.1 L462.2,34.1 L463.2,34.0 L464.2,33.9 L465.2,33.9 L466.2,33.8 L467.2,33.7 L468.2,33.7 L469.2,33.6 L470.2,33.6 L471.2,33.5 L472.2,33.4 L473.2,33.4 L474.2,33.3 L475.2,33.2 L476.2,33.2 L477.2,33.1 L478.2,33.1 L479.2,33.0 L480.2,33.0 L481.2,32.9 L482.2,32.9 L483.2,32.9 L484.2,32.8 L485.2,32.8 L486.2,32.8 L487.2,32.7 L488.2,32.7 L489.2,32.7 L490.2,32.7 L491.2,32.6 L492.2,32.6 L493.2,32.6 L494.2,32.6 L495.2,32.5 L496.2,32.5 L497.2,32.5 L498.2,32.5 L499.2,32.4 L500.2,32.4 L501.2,32.4 L502.2,32.4 L503.2,32.3 L504.2,32.3 L505.2,32.3 L506.2,32.3 L507.2,32.2 L508.2,32.2 L509.2,32.2 L510.2,32.1 L511.2,32.1 L512.2,32.1 L513.2,32.0 L514.2,32.0 L515.2,31.9 L516.2,31.9 L517.2,31.8 L518.2,31.8 L519.2,31.7 L520.2,31.6 L521.2,31.6 L522.2,31.6 L523.2,31.5 L524.2,31.5 L525.2,31.5 L526.2,31.4 L527.2,31.4 L528.2,31.4 L529.2,31.4 L530.2,31.3 L531.2,31.3 L532.2,31.3 L533.2,31.3 L534.2,31.3 L535.2,31.3 L536.2,31.3 L537.2,31.3 L538.2,31.3 L539.2,31.4 L540.2,31.4 L541.2,31.4 L542.2,31.5 L543.2,31.5 L544.2,31.5 L545.2,31.6 L546.2,31.6 L547.2,31.6 L548.2,31.7 L549.2,31.7 L550.2,31.7 L551.2,31.8 L552.2,31.8 L553.2,31.8 L554.2,31.8 L555.2,31.8 L556.2,31.8 L557.2,31.8 L558.2,31.8 L559.2,31.8 L560.2,31.8 L561.2,31.7 L562.2,31.7 L563.2,31.7 L564.2,31.7 L565.2,31.7 L566.2,31.7 L567.2,31.6 L568.2,31.6 L569.2,31.6 L570.2,31.6 L571.2,31.6 L572.2,31.5 L573.2,31.5 L574.2,31.5 L575.2,31.5 L576.2,31.5 L577.2,31.5 L578.2,31.5 L579.2,31.5 L580.2,31.5 L581.2,31.5 L582.2,31.6 L583.2,31.6 L584.2,31.6 L585.2,31.6 L586.2,31.7 L587.2,31.7 L588.2,31.8 L589.2,31.8 L590.2,31.8 L591.2,31.9 L592.2,31.9 L593.2,31.9 L594.2,32.0 L595.2,32.0 L596.2,32.0 L597.2,32.1 L598.2,32.1 L599.2,32.2 L600.2,32.2 L601.2,32.2 L602.2,32.3 L603.2,32.3 L604.2,32.4 L605.2,32.4 L606.2,32.4 L607.2,32.5 L608.2,32.5 L609.2,32.5 L610.2,32.6 L611.2,32.6 L612.2,32.6 L613.2,32.6 L614.2,32.7 L615.2,32.7 L616.2,32.7 L617.2,32.7 L618.2,32.8 L619.2,32.8 L620.2,32.8 L621.2,32.8 L622.2,32.8 L623.2,32.9 L624.2,32.9 L625.2,32.9 L626.2,32.9 L627.2,32.9 L628.2,33.0 L629.2,33.0 L630.2,33.0 L631.2,33.0 L632.2,33.0 L633.2,33.0 L634.2,33.1 L635.2,33.1 L636.2,33.1 L637.2,33.1 L638.2,33.2 L639.2,33.2 L640.2,33.2 L641.2,33.2 L642.2,33.3 L643.2,33.3 L644.2,33.3 L645.2,33.3 L646.2,33.4 L647.2,33.4 L648.2,33.4 L649.2,33.5 L650.2,33.5 L651.2,33.5 L652.2,33.6 L653.2,33.6 L654.2,33.6 L655.2,33.7 L656.2,33.7 L657.2,33.7 L658.2,33.8 L659.2,33.8 L660.2,33.8 L661.2,33.9 L662.2,33.9 L663.2,34.0 L664.2,34.0 L665.2,34.0 L666.2,34.1 L667.2,34.1 L668.2,34.2 L669.2,34.2 L670.2,34.2 L671.2,34.3 L672.2,34.3 L673.2,34.4 L674.2,34.4 L675.2,34.4 L676.2,34.5 L677.2,34.5 L678.2,34.6 L679.2,34.6 L680.2,34.7 L681.2,34.7 L682.2,34.8 L683.2,34.8 L684.2,34.8 L685.2,34.9 L686.2,34.9 L687.2,35.0 L688.2,35.0 L689.2,35.1 L690.2,35.1 L691.2,35.2 L692.2,35.2 L693.2,35.2 L694.2,35.3 L695.2,35.3 L696.2,35.4 L697.2,35.4 L698.2,35.5 L699.2,35.5 L700.2,35.6 L701.2,35.6 L702.2,35.7 L703.2,35.7 L704.2,35.8 L705.2,35.8 L706.2,35.9 L707.2,35.9 L708.2,36.0 L709.2,36.0 L710.2,36.1 L711.2,36.1 L712.2,36.2 L713.2,36.2 L714.2,36.3 L715.2,36.3 L716.2,36.4 L717.2,36.4 L718.2,36.5 L719.2,36.5 L720.2,36.6 L721.2,36.6 L722.2,36.7 L723.2,36.7 L724.2,36.8 L725.2,36.8 L726.2,36.9 L727.2,37.0 L728.2,37.0 L729.2,37.1 L730.2,37.1 L731.2,37.2 L732.2,37.2 L733.2,37.3 L734.2,37.3 L735.2,37.4 L736.2,37.4 L737.2,37.5 L738.2,37.5 L739.2,37.6 L740.2,37.6 L741.2,37.7 L742.2,37.7 L743.2,37.8 L744.2,37.8 L745.2,37.9 L746.2,37.9 L747.2,38.0 L748.2,38.0 L749.2,38.1 L750.2,38.1 L751.2,38.2 L752.2,38.2 L753.2,38.3 L754.2,38.3 L755.2,38.4 L756.2,38.4 L757.2,38.5 L758.2,38.5 L759.2,38.6 L760.2,38.6 L761.2,38.6 L762.2,38.7 L763.2,38.7 L764.2,38.7 L765.2,38.8 L766.2,38.8 L767.2,38.8 L768.2,38.9 L769.2,38.9 L770.2,38.9 L771.2,38.9 L772.2,38.9 L773.2,38.9 L774.2,38.9 L775.2,38.9 L776.2,38.9 L777.2,38.9 L778.2,38.9 L779.2,38.9 L780.2,38.9 L781.2,38.9 L782.2,38.9 L783.2,38.9 L784.2,38.9 L785.2,38.9 L786.2,38.9 L787.2,38.9 L788.2,38.9 L789.2,38.9 L790.2,38.9 L791.2,38.9 L792.2,38.9 L793.2,38.9 L794.2,38.9 L795.2,38.9 L796.2,38.9 L796.8,38.9" stroke="#ff8000" stroke-width="1.85" stroke-dasharray="1.44 1.44"/>
</g>
<g stroke="#000" stroke-width="1.3" fill="none">
<line x1="131.45" y1="356.8" x2="131.45" y2="349.3"/>
<line x1="131.45" y1="16.75" x2="131.45" y2="24.25"/>
<line x1="174.25" y1="356.8" x2="174.25" y2="349.3"/>
<line x1="174.25" y1="16.75" x2="174.25" y2="24.25"/>
<line x1="212.55" y1="356.8" x2="212.55" y2="349.3"/>
<line x1="212.55" y1="16.75" x2="212.55" y2="24.25"/>
<line x1="464.45" y1="356.8" x2="464.45" y2="349.3"/>
<line x1="464.45" y1="16.75" x2="464.45" y2="24.25"/>
<line x1="611.40" y1="356.8" x2="611.40" y2="349.3"/>
<line x1="611.40" y1="16.75" x2="611.40" y2="24.25"/>
<line x1="715.90" y1="356.8" x2="715.90" y2="349.3"/>
<line x1="715.90" y1="16.75" x2="715.90" y2="24.25"/>
<line x1="83.0" y1="78.50" x2="90.5" y2="78.50"/>
<line x1="796.8" y1="78.50" x2="789.3" y2="78.50"/>
<line x1="83.0" y1="140.00" x2="90.5" y2="140.00"/>
<line x1="796.8" y1="140.00" x2="789.3" y2="140.00"/>
<line x1="83.0" y1="201.50" x2="90.5" y2="201.50"/>
<line x1="796.8" y1="201.50" x2="789.3" y2="201.50"/>
<line x1="83.0" y1="263.00" x2="90.5" y2="263.00"/>
<line x1="796.8" y1="263.00" x2="789.3" y2="263.00"/>
<line x1="83.0" y1="324.50" x2="90.5" y2="324.50"/>
<line x1="796.8" y1="324.50" x2="789.3" y2="324.50"/>
<line x1="83.0" y1="343.01" x2="86.8" y2="343.01"/>
<line x1="796.8" y1="343.01" x2="793.0" y2="343.01"/>
<line x1="83.0" y1="330.46" x2="86.8" y2="330.46"/>
<line x1="796.8" y1="330.46" x2="793.0" y2="330.46"/>
<line x1="83.0" y1="305.99" x2="86.8" y2="305.99"/>
<line x1="796.8" y1="305.99" x2="793.0" y2="305.99"/>
<line x1="83.0" y1="281.51" x2="86.8" y2="281.51"/>
<line x1="796.8" y1="281.51" x2="793.0" y2="281.51"/>
<line x1="83.0" y1="268.96" x2="86.8" y2="268.96"/>
<line x1="796.8" y1="268.96" x2="793.0" y2="268.96"/>
<line x1="83.0" y1="244.49" x2="86.8" y2="244.49"/>
<line x1="796.8" y1="244.49" x2="793.0" y2="244.49"/>
<line x1="83.0" y1="220.01" x2="86.8" y2="220.01"/>
<line x1="796.8" y1="220.01" x2="793.0" y2="220.01"/>
<line x1="83.0" y1="207.46" x2="86.8" y2="207.46"/>
<line x1="796.8" y1="207.46" x2="793.0" y2="207.46"/>
<line x1="83.0" y1="182.99" x2="86.8" y2="182.99"/>
<line x1="796.8" y1="182.99" x2="793.0" y2="182.99"/>
<line x1="83.0" y1="158.51" x2="86.8" y2="158.51"/>
<line x1="796.8" y1="158.51" x2="793.0" y2="158.51"/>
<line x1="83.0" y1="145.96" x2="86.8" y2="145.96"/>
<line x1="796.8" y1="145.96" x2="793.0" y2="145.96"/>
<line x1="83.0" y1="121.49" x2="86.8" y2="121.49"/>
<line x1="796.8" y1="121.49" x2="793.0" y2="121.49"/>
<line x1="83.0" y1="97.01" x2="86.8" y2="97.01"/>
<line x1="796.8" y1="97.01" x2="793.0" y2="97.01"/>
<line x1="83.0" y1="84.46" x2="86.8" y2="84.46"/>
<line x1="796.8" y1="84.46" x2="793.0" y2="84.46"/>
<line x1="83.0" y1="59.99" x2="86.8" y2="59.99"/>
<line x1="796.8" y1="59.99" x2="793.0" y2="59.99"/>
<line x1="83.0" y1="35.51" x2="86.8" y2="35.51"/>
<line x1="796.8" y1="35.51" x2="793.0" y2="35.51"/>
<line x1="83.0" y1="22.96" x2="86.8" y2="22.96"/>
<line x1="796.8" y1="22.96" x2="793.0" y2="22.96"/>
</g>
<rect x="83.0" y="16.75" width="713.8" height="340.05" fill="none" stroke="#000" stroke-width="1.45"/>
<g style="will-change:transform" fill="#000" font-size="19.55px"><text x="72.78" y="373.30">0.7</text><text x="121.23" y="373.30">0.8</text><text x="164.03" y="373.30">0.9</text><text x="209.66" y="373.30">1</text><text x="461.56" y="373.30">2</text><text x="608.51" y="373.30">3</text><text x="713.01" y="373.30">4</text><text x="793.91" y="373.30">5</text><text x="32.40" y="23.30">1000</text><text x="42.17" y="84.80">100</text><text x="51.95" y="146.30">10</text><text x="61.73" y="207.80">1</text><text x="47.06" y="269.30">0.1</text><text x="37.29" y="330.80">0.01</text><text x="383.40" y="404.90">Distance [r</text><text x="469.70" y="410.70" font-size="15.64px">jup</text><text x="489.69" y="404.90">]</text></g>
<g style="will-change:transform" fill="#000" font-size="19.55px" transform="translate(23.5,283.6) rotate(-90)"><text x="0.00" y="0.00">Surface Density [g cm</text><text x="175.35" y="-9.60" font-size="15.64px">-2</text><text x="188.38" y="0.00">]</text></g>
<rect x="507.4" y="235.65" width="278.0" height="114.04999999999998" fill="#fff" stroke="#000" stroke-width="1.5"/>
<line x1="519.1" y1="254.4" x2="561.9" y2="254.4" stroke="#ff0000" stroke-width="1.85"/>
<line x1="519.1" y1="279.9" x2="561.9" y2="279.9" stroke="#0000ff" stroke-width="1.85" stroke-dasharray="4.9 2.0"/>
<line x1="519.1" y1="305.2" x2="561.9" y2="305.2" stroke="#008000" stroke-width="1.85" stroke-dasharray="2.45 3.31"/>
<line x1="519.1" y1="330.9" x2="561.9" y2="330.9" stroke="#ff8000" stroke-width="1.85" stroke-dasharray="1.44 1.44"/>
<g style="will-change:transform" fill="#000" font-size="19.55px"><text x="573.60" y="260.80">Isothermal</text><text x="573.60" y="286.30">Radiative</text><text x="573.60" y="311.60">Radiative with diffusion</text><text x="573.60" y="337.30">Radiative with irradiation</text></g>
</svg></body></html>
